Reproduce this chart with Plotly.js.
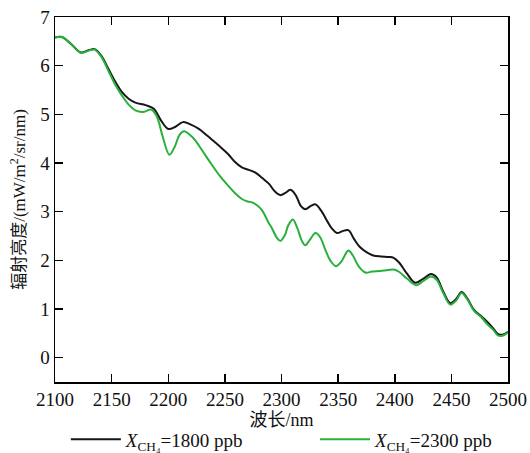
<!DOCTYPE html>
<html>
<head>
<meta charset="utf-8">
<script src="https://cdn.plot.ly/plotly-3.0.1.min.js"></script>
<style>html,body{margin:0;padding:0;background:#fff;}#chart{width:530px;height:453px;}</style>
</head>
<body>
<div id="chart"></div>
<script>
// Wavelength (nm) and radiance (mW/m2/sr/nm) for XCH4 = 1800 ppb
const wl1800 = [2100,2106,2114,2123,2130,2135,2141,2147,2153,2159,2165,2171,2180,2187,2194,2200,2206,2213,2220,2227,2234,2241,2247,2253,2259,2265,2271,2277,2283,2289,2294,2299,2303,2308,2313,2317,2321,2326,2330,2335,2341,2345,2349,2354,2359,2364,2369,2375,2381,2388,2395,2399,2404,2411,2418,2425,2432,2437,2443,2449,2454,2459,2464,2470,2476,2482,2487,2491,2495,2500];
const rad1800 = [6.58,6.59,6.45,6.27,6.32,6.34,6.20,5.94,5.68,5.46,5.32,5.24,5.19,5.12,4.86,4.70,4.74,4.84,4.79,4.70,4.57,4.43,4.31,4.18,4.02,3.91,3.86,3.80,3.69,3.57,3.42,3.34,3.38,3.45,3.32,3.12,3.05,3.12,3.15,3.02,2.78,2.64,2.56,2.60,2.62,2.44,2.28,2.17,2.10,2.08,2.07,2.05,1.95,1.72,1.54,1.62,1.72,1.65,1.35,1.12,1.20,1.35,1.22,0.98,0.86,0.73,0.60,0.49,0.47,0.53];

// Wavelength (nm) and radiance for XCH4 = 2300 ppb
const wl2300 = [2100,2106,2114,2123,2130,2135,2141,2147,2153,2159,2165,2171,2178,2185,2190,2195,2201,2206,2210,2214,2219,2224,2231,2238,2245,2253,2259,2265,2270,2274,2279,2283,2288,2292,2296,2299,2303,2306,2310,2314,2318,2321,2325,2330,2334,2339,2343,2348,2353,2359,2363,2368,2374,2380,2387,2394,2399,2404,2411,2419,2425,2432,2437,2443,2449,2454,2459,2464,2470,2476,2482,2487,2491,2495,2500];
const rad2300 = [6.58,6.59,6.45,6.26,6.31,6.33,6.18,5.90,5.62,5.39,5.20,5.08,5.05,5.10,4.95,4.55,4.17,4.35,4.58,4.65,4.58,4.46,4.22,3.98,3.75,3.53,3.38,3.26,3.21,3.19,3.12,3.02,2.80,2.64,2.46,2.40,2.52,2.72,2.84,2.66,2.40,2.31,2.42,2.56,2.48,2.20,2.00,1.88,1.98,2.20,2.10,1.88,1.75,1.77,1.78,1.80,1.81,1.76,1.62,1.49,1.57,1.67,1.60,1.32,1.09,1.17,1.33,1.20,0.96,0.84,0.68,0.57,0.46,0.45,0.52];

const names = ['<i>X</i><sub>CH₄</sub>=1800 ppb', '<i>X</i><sub>CH₄</sub>=2300 ppb'];
const xTicks = [2100,2150,2200,2250,2300,2350,2400,2450,2500];
const yTicks = [0,1,2,3,4,5,6,7];

const FONT = '"Liberation Serif", "Times New Roman", "Noto Sans CJK SC", serif';

const traces = [
  {x: wl1800, y: rad1800, name: names[0], type: 'scatter', mode: 'lines', legend: 'legend',
   line: {color: '#161616', width: 2, shape: 'spline', smoothing: 1}},
  {x: wl2300, y: rad2300, name: names[1], type: 'scatter', mode: 'lines', legend: 'legend2',
   line: {color: '#28b03c', width: 2, shape: 'spline', smoothing: 1}}
];

const axisCommon = {
  showgrid: false, zeroline: false, showline: true, linecolor: '#000', linewidth: 1.5,
  mirror: 'ticks', ticks: 'inside', ticklen: 8, tickwidth: 1.5, tickcolor: '#000',
  tickfont: {family: FONT, size: 19, color: '#111'}
};

const legendCommon = {orientation: 'h', xanchor: 'left', y: -0.157, yanchor: 'middle',
  font: {family: FONT, size: 19, color: '#111'}, itemwidth: 50,
  bgcolor: 'rgba(0,0,0,0)', borderwidth: 0};

const layout = {
  width: 530, height: 453,
  margin: {l: 55, r: 22, t: 17, b: 71, autoexpand: false},
  paper_bgcolor: '#fff', plot_bgcolor: '#fff',
  font: {family: FONT, color: '#111'},
  showlegend: true,
  legend: Object.assign({}, legendCommon, {x: 0.024}),
  legend2: Object.assign({}, legendCommon, {x: 0.574}),
  xaxis: Object.assign({}, axisCommon, {
    range: [2100, 2500], tickvals: xTicks, ticktext: xTicks.map(String),
    title: {text: '波长/nm', font: {family: FONT, size: 18, color: '#111'}, standoff: 4}
  }),
  yaxis: Object.assign({}, axisCommon, {
    range: [-0.5, 7], tickvals: yTicks, ticktext: yTicks.map(String),
    title: {text: '辐射亮度/(mW/m<sup>2</sup>/sr/nm)', font: {family: FONT, size: 17, color: '#111'}, standoff: 10}
  })
};

Plotly.newPlot('chart', traces, layout, {displayModeBar: false, staticPlot: true});
</script>
</body>
</html>
